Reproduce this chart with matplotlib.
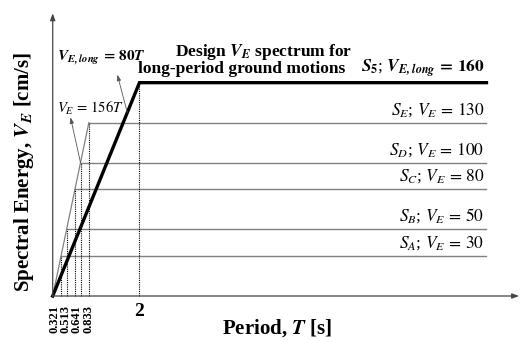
import matplotlib.pyplot as plt
import numpy as np

# site classes: plateau level of V_E [cm/s]
site_names = ["A", "B", "C", "D", "E"]
site_levels = [30, 50, 80, 100, 130]
site_slope = 156

# long-period design spectrum
long_slope = 80
long_level = 160
T_end = 10

# labels under the x axis
corner_labels = ["0.321", "0.513", "0.641", "0.833"]
corner_label_x = [0.03, 0.30, 0.55, 0.82]

plt.rcParams["font.family"] = ["Liberation Serif", "DejaVu Serif"]
plt.rcParams["mathtext.fontset"] = "stix"

GRAY = "#808080"

fig = plt.figure(figsize=(5.24, 3.42), dpi=100)
ax = fig.add_axes([0, 0, 1, 1])
ax.set_xlim(-1.215, 10.865)
ax.set_ylim(-34.5, 222)
ax.axis("off")

# axes with arrows
ax.annotate("", xy=(10.75, 0), xytext=(0, 0),
            arrowprops=dict(arrowstyle="-|>,head_length=0.4,head_width=0.15",
                            color="#444444", lw=0.9, shrinkA=0, shrinkB=0))
ax.annotate("", xy=(0, 212), xytext=(0, 0),
            arrowprops=dict(arrowstyle="-|>,head_length=0.4,head_width=0.15",
                            color="#444444", lw=0.9, shrinkA=0, shrinkB=0))

# site-class spectra
corners = np.array(site_levels) / site_slope
ax.plot([0, corners[-1]], [0, site_levels[-1]], color=GRAY, lw=0.9)
for name, T_c, V in zip(site_names, corners, site_levels):
    ax.plot([T_c, T_end], [V, V], color=GRAY, lw=1.0)
    ax.plot([T_c, T_c], [0, V], color="black", lw=0.8, ls=(0, (1, 1)))
    ax.text(T_end - 0.05, V + 3, rf"$S_{name}$; $V_E\,=\,{V}$",
            ha="right", va="bottom", fontsize=12.5)

# long-period spectrum
T_long = long_level / long_slope
ax.plot([T_long, T_long], [0, long_level], color="black", lw=0.8, ls=(0, (1, 1)))
ax.plot([0, T_long, T_end], [0, long_level, long_level], color="black",
        lw=2.4, solid_joinstyle="miter")

ax.text(4.87, 183, r"Design $\mathbfit{V_E}$ spectrum for", ha="center",
        va="center", fontsize=12.5, fontweight="bold")
ax.text(6.74, 170, "long-period ground motions", ha="right", va="center",
        fontsize=12.5, fontweight="bold")
ax.text(T_end - 0.05, long_level + 3,
        rf"$\mathbfit{{S}}_\mathbf{{5}}$; $\mathbfit{{V}}_{{\mathbfit{{E,long}}}}\,\mathbf{{=\,{long_level}}}$",
        ha="right", va="bottom", fontsize=12.5)

# formula annotations
arrow = dict(arrowstyle="-|>,head_length=0.35,head_width=0.12",
             color="#555555", lw=0.6, shrinkA=0, shrinkB=0)
ax.text(0.1, 179, rf"$\mathbfit{{V}}_{{\mathbfit{{E,long}}}}\,\mathbf{{=\,{long_slope}}}\mathbfit{{T}}$",
        ha="left", va="center", fontsize=11)
ax.annotate("", xy=(1.49, 166), xytext=(1.72, long_slope * 1.72), arrowprops=arrow)
ax.text(0.1, 141, rf"$V_E\,=\,{site_slope}T$", ha="left", va="center", fontsize=10.5)
ax.annotate("", xy=(0.41, 134), xytext=(corners[3], site_levels[3]), arrowprops=arrow)

# tick labels
for lab, x in zip(corner_labels, corner_label_x):
    ax.text(x, -6.5, lab, rotation=90, ha="center", va="top",
            fontsize=9, fontweight="bold")
ax.text(T_long, -5, "2", ha="center", va="top", fontsize=14, fontweight="bold")

# axis titles
ax.text(5.17, -24, r"Period, $\mathbfit{T}$ [s]", ha="center", va="center",
        fontsize=15, fontweight="bold")
ax.text(-0.66, 93, r"Spectral Energy, $\mathbfit{V_E}$ [cm/s]", rotation=90,
        ha="center", va="center", fontsize=15, fontweight="bold")

fig.savefig("out.png", dpi=100)
